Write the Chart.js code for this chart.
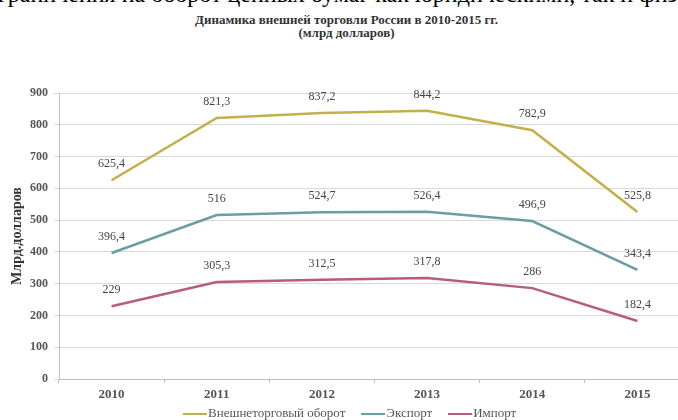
<!DOCTYPE html>
<html>
<head>
<meta charset="utf-8">
<script src="https://cdn.jsdelivr.net/npm/chart.js@4.4.1/dist/chart.umd.min.js"></script>
<style>
  html, body { margin: 0; padding: 0; background: #fff; overflow: hidden; width: 678px; height: 420px; }
  #wrap { position: relative; width: 678px; height: 420px; overflow: hidden; }
  #cut { position: absolute; left: -2px; top: -19px; white-space: nowrap; font: 24px "Times New Roman", "Liberation Serif", "DejaVu Serif", serif; color: #000; }
  #title { position: absolute; left: 195px; top: 13px; white-space: nowrap; font: bold 13px "Times New Roman", "Liberation Serif", "DejaVu Serif", serif; color: #333; line-height: 13px; }
  #title div { text-align: center; }
  #chartBox { position: absolute; left: 0; top: 0; width: 720px; height: 420px; }
  #legend { position: absolute; left: 183px; top: 406px; font: 13px "Times New Roman", "Liberation Serif", "DejaVu Serif", serif; color: #555; white-space: nowrap; line-height: 14px; }
  #legend span.item { margin-right: 16px; }
  #legend span.sw { display: inline-block; width: 24px; height: 2px; vertical-align: middle; margin-right: 1px; }
</style>
</head>
<body>
<div id="wrap">
  <div id="cut">граничения на оборот ценных бумаг как юридическими, так и физ</div>
  <div id="title"><div>Динамика внешней торговли России в 2010-2015 гг.</div><div>(млрд долларов)</div></div>
  <div id="chartBox"><canvas id="tradeChart" width="720" height="420"></canvas></div>
  <div id="legend"></div>
</div>
<script>
const years = ['2010', '2011', '2012', '2013', '2014', '2015'];
const turnover = [625.4, 821.3, 837.2, 844.2, 782.9, 525.8];
const exports = [396.4, 516, 524.7, 526.4, 496.9, 343.4];
const imports = [229, 305.3, 312.5, 317.8, 286, 182.4];
const yTicks = [0, 100, 200, 300, 400, 500, 600, 700, 800, 900];

const seriesNames = ['Внешнеторговый оборот', 'Экспорт', 'Импорт'];
const seriesColors = ['#c2b04c', '#6a9ea3', '#b85d78'];
const serif = '"Times New Roman", "Liberation Serif", "DejaVu Serif", serif';

// подписи значений над точками
const valueLabels = {
    id: 'valueLabels',
    afterDatasetsDraw(chart) {
        const ctx = chart.ctx;
        ctx.save();
        ctx.font = '12px ' + serif;
        ctx.fillStyle = '#444';
        ctx.textAlign = 'center';
        ctx.textBaseline = 'middle';
        chart.data.datasets.forEach((ds, i) => {
            chart.getDatasetMeta(i).data.forEach((pt, j) => {
                const txt = String(ds.data[j]).replace('.', ',');
                ctx.fillText(txt, pt.x, pt.y - 16);
            });
        });
        ctx.restore();
    }
};

new Chart(document.getElementById('tradeChart'), {
    type: 'line',
    data: {
        labels: years,
        datasets: [turnover, exports, imports].map((d, i) => ({
            label: seriesNames[i],
            data: d,
            borderColor: seriesColors[i],
            backgroundColor: seriesColors[i],
            borderWidth: 2.5,
            pointRadius: 0,
            tension: 0,
        })),
    },
    options: {
        responsive: false,
        animation: false,
        layout: { padding: { left: 0, top: 93, right: 30, bottom: 0 } },
        plugins: { legend: { display: false }, tooltip: { enabled: false } },
        scales: {
            x: {
                offset: true,
                afterFit: (s) => { s.height = 41; },
                grid: { drawOnChartArea: false, tickLength: 4, color: '#bfbfbf', offset: true },
                border: { color: '#bfbfbf' },
                ticks: { padding: 4, color: '#555', font: { family: serif, size: 13, weight: 'bold' } },
            },
            y: {
                min: 0,
                max: 900,
                afterFit: (s) => { s.width = 59; },
                afterBuildTicks: (s) => { s.ticks = yTicks.map(v => ({ value: v })); },
                grid: { color: '#d9d9d9', tickLength: 5 },
                border: { color: '#bfbfbf' },
                ticks: { padding: 6, color: '#555', font: { family: serif, size: 12, weight: 'bold' } },
                title: {
                    display: true,
                    text: 'Млрд.долларов',
                    color: '#333',
                    padding: { top: 9, bottom: 0 },
                    font: { family: serif, size: 14, weight: 'bold' },
                },
            },
        },
    },
    plugins: [valueLabels],
});

const legend = document.getElementById('legend');
seriesNames.forEach((name, i) => {
    legend.innerHTML += `<span class="item"><span class="sw" style="background:${seriesColors[i]}"></span>${name}</span>`;
});
</script>
</body>
</html>
